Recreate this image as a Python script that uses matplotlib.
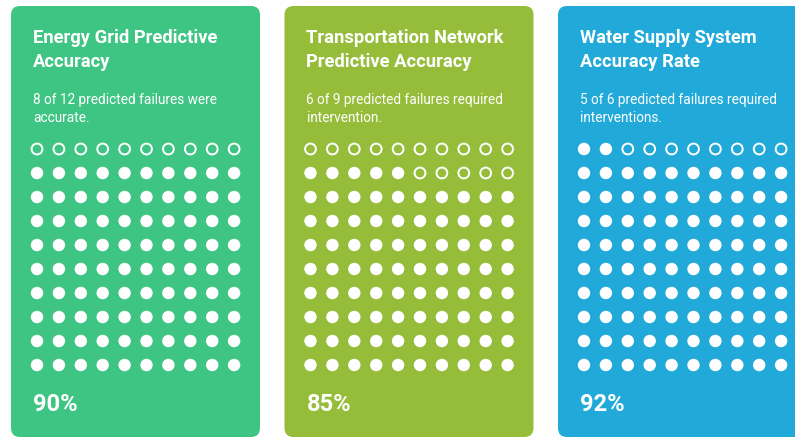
import matplotlib.pyplot as plt
from matplotlib.patches import FancyBboxPatch, Circle

titles = [
    "Energy Grid Predictive\nAccuracy",
    "Transportation Network\nPredictive Accuracy",
    "Water Supply System\nAccuracy Rate",
]
subtitles = [
    "8 of 12 predicted failures were\naccurate.",
    "6 of 9 predicted failures required\nintervention.",
    "5 of 6 predicted failures required\ninterventions.",
]
percents = [90, 85, 92]
card_colors = ["#3EC584", "#95BD3A", "#21AAD9"]

W, H = 795, 439
fig = plt.figure(figsize=(W / 100, H / 100), dpi=100)
ax = fig.add_axes([0, 0, 1, 1])
ax.set_xlim(0, W)
ax.set_ylim(H, 0)
ax.axis("off")

card_x0, card_step, card_w = 11, 273.5, 249
card_y0, card_y1 = 7, 438
dot_dx, dot_dy, dot_r = 21.9, 24, 6.2

for k, (title, sub, pct, col) in enumerate(zip(titles, subtitles, percents, card_colors)):
    x0 = card_x0 + k * card_step
    ax.add_patch(FancyBboxPatch((x0, card_y0), card_w, card_y1 - card_y0,
                                boxstyle="round,pad=0,rounding_size=9",
                                fc=col, ec="none"))
    tx = x0 + 22
    # one text per line so each baseline sits where the reference has it
    for i, line in enumerate(title.split("\n")):
        ax.text(tx, 43 + i * 24, line, color="white", fontsize=13.2,
                fontweight="bold", family="Roboto", va="baseline", ha="left")
    for i, line in enumerate(sub.split("\n")):
        ax.text(tx, 104.3 + i * 17.4, line, color="white", fontsize=9.8,
                family="Roboto", va="baseline", ha="left")

    # 10x10 waffle, filled from the bottom row, left to right
    for r in range(10):
        for c in range(10):
            idx = (9 - r) * 10 + c
            cx = x0 + 26 + c * dot_dx
            cy = 150 + r * dot_dy
            if idx < pct:
                ax.add_patch(Circle((cx, cy), dot_r, fc="white", ec="none"))
            else:
                ax.add_patch(Circle((cx, cy), dot_r - 0.8, fc="none", ec="white", lw=1.4))

    ax.text(tx, 411, f"{pct}%", color="white", fontsize=17,
            fontweight="bold", family="Roboto", va="baseline", ha="left")

plt.savefig("out.png", dpi=100)
plt.close()
